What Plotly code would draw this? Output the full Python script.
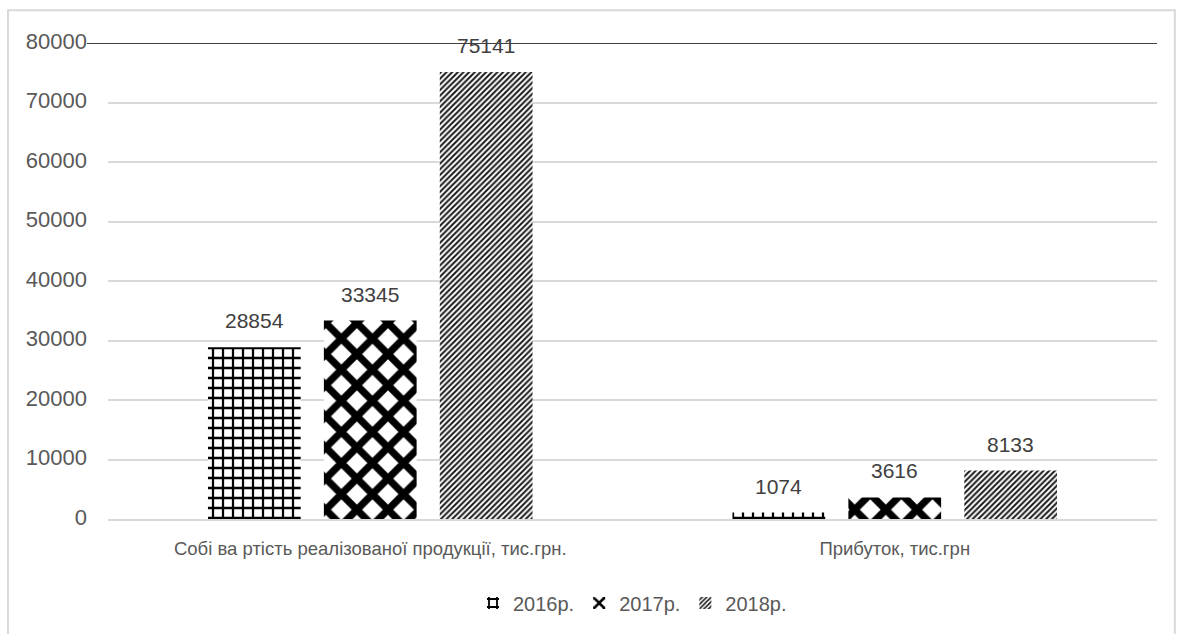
import plotly.graph_objects as go

categories = ["Собі ва ртість реалізованої продукції, тис.грн.", "Прибуток, тис.грн"]
years = ["2016р.", "2017р.", "2018р."]
values_2016 = [28854, 1074]
values_2017 = [33345, 3616]
values_2018 = [75141, 8133]
tick_vals = [0, 10000, 20000, 30000, 40000, 50000, 60000, 70000, 80000]
tick_text = ["0", "10000", "20000", "30000", "40000", "50000", "60000", "70000", "80000"]

series = [values_2016, values_2017, values_2018]
patterns = [
    dict(shape="+", fgcolor="#000000", bgcolor="#ffffff", fgopacity=1, size=10, solidity=0.4),
    dict(shape="x", fgcolor="#000000", bgcolor="#ffffff", fgopacity=1, size=22, solidity=0.55),
    dict(shape="/", fgcolor="#1a1a1a", bgcolor="#ffffff", fgopacity=1, size=4, solidity=0.5),
]

W, H = 1180, 634
ML, MR, MT, MB = 108, 23, 43, 115
BARGAP = 0.337
plot_w = W - ML - MR
slot = plot_w / len(categories) * (1 - BARGAP) / len(series)

fig = go.Figure()
annotations = []
for i, (name, vals, pat) in enumerate(zip(years, series, patterns)):
    fig.add_trace(go.Bar(
        name=name, x=categories, y=vals,
        marker=dict(color="#ffffff", pattern=pat, line=dict(width=0)),
    ))
    for cat, v in zip(categories, vals):
        annotations.append(dict(
            x=cat, y=v, xref="x", yref="y", text=str(v), showarrow=False,
            yanchor="bottom", xanchor="center",
            xshift=(i - (len(series) - 1) / 2) * slot, yshift=13,
            font=dict(family="Liberation Sans", size=21, color="#404040"),
        ))

fig.update_layout(
    width=W, height=H,
    paper_bgcolor="#ffffff", plot_bgcolor="#ffffff",
    margin=dict(l=ML, r=MR, t=MT, b=MB),
    barmode="group", bargap=BARGAP, bargroupgap=0.2,
    font=dict(family="Liberation Sans", size=20, color="#595959"),
    showlegend=True,
    legend=dict(orientation="h", x=0.5, xanchor="center", y=-0.1765, yanchor="middle",
                font=dict(size=20, color="#595959"), traceorder="normal"),
    xaxis=dict(showgrid=False, showline=True, linecolor="#d9d9d9", linewidth=2,
               ticks="", ticklabelstandoff=12,
               tickfont=dict(family="Liberation Sans", size=18.5, color="#595959")),
    yaxis=dict(range=[0, 80000], tickvals=tick_vals, ticktext=tick_text, showgrid=True,
               gridcolor="#d9d9d9", gridwidth=2, zeroline=False, showline=False, ticks="",
               ticklabelstandoff=20, ticklabelshift=-2,
               tickfont=dict(family="Liberation Sans", size=22, color="#595959")),
    annotations=annotations,
    shapes=[
        dict(type="rect", xref="paper", yref="paper", x0=-0.0953, x1=1.017, y0=-0.3, y1=1.069,
             line=dict(color="#d9d9d9", width=2), layer="below"),
        dict(type="line", xref="paper", yref="y", x0=-0.02, x1=1.0, y0=80000, y1=80000,
             line=dict(color="#404040", width=2)),
    ],
)

fig.write_html("out.html", config={"displayModeBar": False},
               post_script="document.body.style.margin='0';")
